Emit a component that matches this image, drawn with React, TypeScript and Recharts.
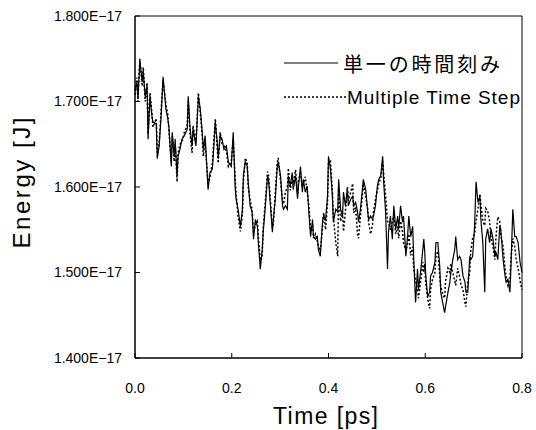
import { LineChart, Line, XAxis, YAxis, ReferenceArea, Legend } from "recharts";

// energies are in units of 1E-17 J
const SCALE = 1e-17;
const FONT = "'Liberation Sans', Arial, sans-serif";

const time = [
  0.000, 0.004, 0.006, 0.010, 0.015, 0.017, 0.021, 0.025, 0.027, 0.031,
  0.035, 0.037, 0.044, 0.046, 0.050, 0.054, 0.058, 0.064, 0.068, 0.070,
  0.075, 0.077, 0.081, 0.083, 0.087, 0.089, 0.093, 0.097, 0.102, 0.108,
  0.110, 0.114, 0.118, 0.120, 0.126, 0.131, 0.135, 0.139, 0.141, 0.145,
  0.151, 0.155, 0.160, 0.166, 0.170, 0.172, 0.176, 0.180, 0.184, 0.189,
  0.193, 0.199, 0.203, 0.207, 0.209, 0.213, 0.218, 0.222, 0.224, 0.228,
  0.232, 0.234, 0.238, 0.242, 0.245, 0.249, 0.253, 0.255, 0.259, 0.263,
  0.265, 0.269, 0.274, 0.276, 0.280, 0.284, 0.286, 0.290, 0.294, 0.296,
  0.301, 0.305, 0.307, 0.311, 0.315, 0.317, 0.321, 0.325, 0.327, 0.332,
  0.336, 0.338, 0.342, 0.346, 0.348, 0.352, 0.356, 0.359, 0.363, 0.367,
  0.369, 0.373, 0.377, 0.379, 0.383, 0.388, 0.390, 0.394, 0.398, 0.400,
  0.404, 0.408, 0.410, 0.415, 0.419, 0.421, 0.425, 0.429, 0.431, 0.435,
  0.439, 0.441, 0.446, 0.450, 0.452, 0.456, 0.460, 0.462, 0.466, 0.470,
  0.472, 0.477, 0.481, 0.483, 0.487, 0.491, 0.493, 0.497, 0.501, 0.504,
  0.508, 0.512, 0.514, 0.518, 0.522, 0.524, 0.528, 0.532, 0.535, 0.539,
  0.543, 0.545, 0.549, 0.553, 0.555, 0.560, 0.564, 0.566, 0.570, 0.574,
  0.576, 0.580, 0.584, 0.586, 0.591, 0.595, 0.597, 0.599, 0.601, 0.605,
  0.609, 0.611, 0.615, 0.620, 0.622, 0.626, 0.630, 0.632, 0.636, 0.640,
  0.642, 0.647, 0.651, 0.653, 0.657, 0.661, 0.663, 0.667, 0.671, 0.674,
  0.678, 0.682, 0.684, 0.688, 0.692, 0.694, 0.698, 0.702, 0.705, 0.709,
  0.713, 0.715, 0.719, 0.723, 0.725, 0.729, 0.733, 0.736, 0.740, 0.744,
  0.746, 0.750, 0.754, 0.756, 0.761, 0.765, 0.767, 0.771, 0.775, 0.777,
  0.781, 0.785, 0.788, 0.792, 0.796, 0.800,
];

// 単一の時間刻み (solid)
const singleStep = [
  1.712, 1.723, 1.703, 1.747, 1.723, 1.736, 1.706, 1.718, 1.656, 1.706,
  1.683, 1.676, 1.674, 1.633, 1.648, 1.683, 1.729, 1.691, 1.679, 1.671,
  1.624, 1.664, 1.636, 1.656, 1.613, 1.636, 1.644, 1.656, 1.660, 1.668,
  1.706, 1.668, 1.648, 1.668, 1.648, 1.706, 1.691, 1.664, 1.644, 1.660,
  1.597, 1.617, 1.621, 1.676, 1.652, 1.633, 1.660, 1.656, 1.644, 1.648,
  1.629, 1.624, 1.664, 1.600, 1.586, 1.574, 1.554, 1.574, 1.613, 1.630,
  1.624, 1.606, 1.578, 1.571, 1.539, 1.562, 1.554, 1.535, 1.504, 1.527,
  1.547, 1.574, 1.613, 1.609, 1.578, 1.547, 1.562, 1.586, 1.624, 1.629,
  1.613, 1.578, 1.574, 1.578, 1.574, 1.613, 1.601, 1.617, 1.597, 1.613,
  1.586, 1.601, 1.624, 1.594, 1.609, 1.594, 1.601, 1.574, 1.542, 1.562,
  1.542, 1.539, 1.542, 1.527, 1.519, 1.562, 1.566, 1.562, 1.589, 1.636,
  1.621, 1.589, 1.559, 1.574, 1.571, 1.609, 1.574, 1.566, 1.594, 1.578,
  1.597, 1.578, 1.586, 1.589, 1.578, 1.582, 1.571, 1.559, 1.574, 1.597,
  1.609, 1.597, 1.571, 1.562, 1.566, 1.562, 1.566, 1.578, 1.601, 1.609,
  1.613, 1.636, 1.606, 1.571, 1.504, 1.547, 1.566, 1.539, 1.578, 1.551,
  1.566, 1.551, 1.578, 1.559, 1.566, 1.519, 1.547, 1.566, 1.542, 1.554,
  1.519, 1.465, 1.504, 1.480, 1.504, 1.527, 1.539, 1.524, 1.496, 1.472,
  1.477, 1.496, 1.500, 1.512, 1.535, 1.535, 1.507, 1.477, 1.465, 1.453,
  1.460, 1.477, 1.489, 1.500, 1.515, 1.527, 1.542, 1.515, 1.519, 1.515,
  1.496, 1.489, 1.477, 1.477, 1.519, 1.515, 1.519, 1.554, 1.606, 1.582,
  1.589, 1.562, 1.535, 1.477, 1.539, 1.551, 1.535, 1.551, 1.539, 1.519,
  1.524, 1.515, 1.554, 1.551, 1.515, 1.496, 1.489, 1.492, 1.477, 1.504,
  1.574, 1.542, 1.542, 1.535, 1.512, 1.500,
];

// Multiple Time Step (dotted)
const multipleStep = [
  1.708, 1.728, 1.700, 1.750, 1.718, 1.740, 1.700, 1.722, 1.662, 1.710,
  1.686, 1.670, 1.680, 1.640, 1.652, 1.690, 1.725, 1.696, 1.684, 1.666,
  1.630, 1.660, 1.630, 1.650, 1.606, 1.640, 1.650, 1.652, 1.664, 1.672,
  1.700, 1.660, 1.640, 1.672, 1.652, 1.710, 1.686, 1.660, 1.636, 1.652,
  1.604, 1.612, 1.628, 1.680, 1.646, 1.628, 1.664, 1.650, 1.648, 1.642,
  1.624, 1.630, 1.655, 1.610, 1.592, 1.566, 1.548, 1.568, 1.606, 1.634,
  1.628, 1.600, 1.584, 1.574, 1.548, 1.556, 1.560, 1.542, 1.514, 1.520,
  1.552, 1.580, 1.618, 1.614, 1.584, 1.552, 1.558, 1.592, 1.628, 1.634,
  1.606, 1.584, 1.580, 1.594, 1.600, 1.622, 1.596, 1.612, 1.604, 1.620,
  1.592, 1.608, 1.616, 1.600, 1.604, 1.612, 1.594, 1.580, 1.548, 1.556,
  1.540, 1.545, 1.536, 1.532, 1.525, 1.556, 1.570, 1.550, 1.582, 1.628,
  1.630, 1.596, 1.566, 1.535, 1.519, 1.600, 1.560, 1.570, 1.548, 1.572,
  1.600, 1.584, 1.594, 1.604, 1.570, 1.576, 1.545, 1.540, 1.566, 1.590,
  1.604, 1.588, 1.575, 1.558, 1.545, 1.556, 1.572, 1.585, 1.596, 1.604,
  1.610, 1.630, 1.616, 1.590, 1.560, 1.558, 1.550, 1.560, 1.566, 1.545,
  1.554, 1.540, 1.560, 1.548, 1.535, 1.525, 1.535, 1.545, 1.520, 1.530,
  1.505, 1.490, 1.480, 1.470, 1.492, 1.512, 1.500, 1.510, 1.488, 1.470,
  1.458, 1.480, 1.492, 1.500, 1.518, 1.525, 1.495, 1.484, 1.475, 1.470,
  1.490, 1.505, 1.500, 1.510, 1.500, 1.490, 1.485, 1.505, 1.495, 1.485,
  1.480, 1.465, 1.460, 1.490, 1.500, 1.525, 1.540, 1.545, 1.560, 1.575,
  1.592, 1.580, 1.560, 1.555, 1.575, 1.572, 1.560, 1.540, 1.530, 1.515,
  1.540, 1.565, 1.560, 1.545, 1.530, 1.505, 1.495, 1.485, 1.492, 1.515,
  1.540, 1.530, 1.515, 1.505, 1.490, 1.480,
];

const xTicks = [0, 0.2, 0.4, 0.6, 0.8];
const yTicks = [1.4, 1.5, 1.6, 1.7, 1.8];

const SERIES = [
  { key: "single", name: "単一の時間刻み", dash: undefined, width: 1.2, textLength: 157, fontSize: 20, font: "'Noto Sans CJK JP', sans-serif" },
  { key: "multiple", name: "Multiple Time Step", dash: "2 2", width: 1.5, textLength: 173, fontSize: 19, font: FONT },
];

const data = time.map((t, i) => ({
  time: t,
  single: singleStep[i] * SCALE,
  multiple: multipleStep[i] * SCALE,
}));

const formatEnergy = (v: number) => (v / SCALE).toFixed(3) + "E−17";

const XTitle = ({ viewBox }: any) => (
  <text
    x={viewBox.x + viewBox.width / 2 - 3}
    y={424}
    textAnchor="middle"
    fontSize={23}
    fontFamily={FONT}
    textLength={105}
    lengthAdjust="spacing"
    fill="#000"
  >
    Time [ps]
  </text>
);

const YTitle = ({ viewBox }: any) => {
  const cx = 30;
  const cy = viewBox.y + viewBox.height / 2 - 4;
  return (
    <text
      x={cx}
      y={cy}
      transform={`rotate(-90 ${cx} ${cy})`}
      textAnchor="middle"
      fontSize={24}
      fontFamily={FONT}
      textLength={131}
      lengthAdjust="spacing"
      fill="#000"
    >
      Energy [J]
    </text>
  );
};

function LegendBox() {
  const rows = [18, 52];
  return (
    <svg width={245} height={70} style={{ display: "block" }}>
      {SERIES.map((s, i) => (
        <g key={s.key}>
          <line
            x1={4}
            x2={s.dash ? 66 : 58}
            y1={rows[i]}
            y2={rows[i]}
            stroke="#000"
            strokeWidth={s.dash ? 1.3 : 1}
            strokeDasharray={s.dash}
          />
          <text
            x={s.dash ? 67 : 63}
            y={rows[i]}
            dominantBaseline="central"
            fontSize={s.fontSize}
            fontFamily={s.font}
            textLength={s.textLength}
            lengthAdjust="spacing"
            fill="#000"
          >
            {s.name}
          </text>
        </g>
      ))}
    </svg>
  );
}

export default function App() {
  return (
    <div style={{ position: "absolute", left: 0, top: 0, background: "#fff" }}>
      <LineChart width={536} height={430} data={data} margin={{ top: 16, right: 14, left: 0, bottom: 0 }}>
        <XAxis
          dataKey="time"
          type="number"
          domain={[0, 0.8]}
          ticks={xTicks}
          tickFormatter={(v: number) => v.toFixed(1)}
          height={72}
          tickSize={-5}
          tickMargin={30}
          axisLine={{ stroke: "#000" }}
          tickLine={{ stroke: "#000" }}
          tick={{ fill: "#000", fontSize: 14, fontFamily: FONT }}
          label={{ content: XTitle }}
        />
        <YAxis
          type="number"
          domain={[yTicks[0] * SCALE, yTicks[yTicks.length - 1] * SCALE]}
          ticks={yTicks.map((v) => v * SCALE)}
          tickFormatter={formatEnergy}
          width={135}
          tickSize={-5}
          tickMargin={18}
          axisLine={{ stroke: "#000" }}
          tickLine={{ stroke: "#000" }}
          tick={{ fill: "#000", fontSize: 14, fontFamily: FONT }}
          label={{ content: YTitle }}
        />
        <ReferenceArea
          x1={0}
          x2={0.8}
          y1={yTicks[0] * SCALE}
          y2={yTicks[yTicks.length - 1] * SCALE}
          fill="none"
          stroke="#000"
          strokeWidth={1}
        />
        {SERIES.map((s) => (
          <Line
            key={s.key}
            dataKey={s.key}
            name={s.name}
            type="linear"
            stroke="#000"
            strokeWidth={s.width}
            strokeDasharray={s.dash}
            dot={false}
            isAnimationActive={false}
          />
        ))}
        <Legend
          layout="horizontal"
          verticalAlign="middle"
          align="center"
          wrapperStyle={{ left: 280, top: 45, width: 245 }}
          content={() => <LegendBox />}
        />
      </LineChart>
    </div>
  );
}
